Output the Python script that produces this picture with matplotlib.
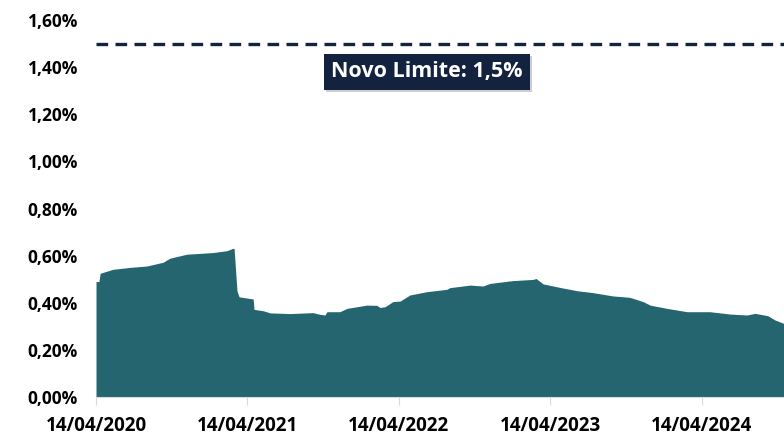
import matplotlib
matplotlib.use('Agg')
import matplotlib.pyplot as plt
import matplotlib.dates as mdates
import matplotlib.patheffects as pe
from matplotlib.ticker import FuncFormatter
import pandas as pd

# Percentual (%)
dates = [
    '2020-04-14', '2020-04-21', '2020-04-24', '2020-05-25', '2020-07-05',
    '2020-08-15', '2020-09-23', '2020-10-09', '2020-11-19', '2021-01-21',
    '2021-02-24', '2021-03-10', '2021-03-13', '2021-03-20', '2021-03-25',
    '2021-04-28', '2021-04-30', '2021-05-22', '2021-06-08', '2021-07-26',
    '2021-09-05', '2021-09-19', '2021-10-06', '2021-10-18', '2021-10-23',
    '2021-11-23', '2021-12-10', '2022-01-03', '2022-01-27', '2022-02-20',
    '2022-02-28', '2022-03-12', '2022-03-31', '2022-04-17', '2022-05-11',
    '2022-06-21', '2022-08-08', '2022-08-15', '2022-10-03', '2022-11-03',
    '2022-11-20', '2023-01-14', '2023-03-04', '2023-03-11', '2023-03-28',
    '2023-05-08', '2023-06-18', '2023-07-26', '2023-09-12', '2023-10-23',
    '2023-11-24', '2023-12-11', '2024-01-21', '2024-03-09', '2024-05-03',
    '2024-06-21', '2024-08-01', '2024-08-20', '2024-09-20', '2024-10-07',
    '2024-10-29',
]
values = [
    0.49, 0.49, 0.525, 0.542, 0.550,
    0.556, 0.572, 0.589, 0.606, 0.613,
    0.621, 0.631, 0.630, 0.45, 0.425,
    0.416, 0.372, 0.366, 0.357, 0.354,
    0.357, 0.358, 0.351, 0.348, 0.362,
    0.362, 0.376, 0.383, 0.390, 0.389,
    0.380, 0.383, 0.405, 0.407, 0.433,
    0.447, 0.457, 0.464, 0.475, 0.471,
    0.482, 0.494, 0.499, 0.503, 0.480,
    0.465, 0.451, 0.443, 0.429, 0.423,
    0.405, 0.390, 0.376, 0.362, 0.362,
    0.352, 0.348, 0.355, 0.345, 0.327,
    0.312,
]
limit = 1.5
limit_label = 'Novo Limite: 1,5%'
tick_dates = ['2020-04-14', '2021-04-14', '2022-04-14', '2023-04-14', '2024-04-14']
y_ticks = [0.0, 0.2, 0.4, 0.6, 0.8, 1.0, 1.2, 1.4, 1.6]

plt.rcParams['font.family'] = ['Open Sans', 'DejaVu Sans']

x = pd.to_datetime(dates)
ticks = pd.to_datetime(tick_dates)

fig = plt.figure(figsize=(7.84, 4.36), dpi=100)
ax = fig.add_axes([96 / 784, 39 / 436, 1 - 96 / 784, 377 / 436])

ax.fill_between(x, 0, values, color='#256570', linewidth=0)
ax.axhline(limit, color='#14243f', linewidth=2.4, linestyle=(0, (3.5, 2.2)))

# label box with a soft shadow
t = ax.text(pd.Timestamp('2022-06-21'), 1.38, limit_label, ha='center', va='center',
            fontsize=15.5, fontweight='bold', color='white',
            bbox=dict(boxstyle='square,pad=0.35', facecolor='#13223f', edgecolor='none'))
t.get_bbox_patch().set_path_effects([pe.SimplePatchShadow(offset=(1.5, -1.5), alpha=0.2),
                                     pe.Normal()])

ax.set_xlim(pd.Timestamp('2020-04-14'), pd.Timestamp('2024-10-29'))
ax.set_ylim(0, 1.6)
ax.set_xticks(ticks)
ax.xaxis.set_major_formatter(mdates.DateFormatter('%d/%m/%Y'))
ax.set_yticks(y_ticks)
ax.yaxis.set_major_formatter(FuncFormatter(lambda v, p: f'{v:.2f}%'.replace('.', ',')))

for lbl in ax.get_yticklabels():
    lbl.set_fontweight('bold')
    lbl.set_fontsize(12.5)
for lbl in ax.get_xticklabels():
    lbl.set_fontweight('bold')
    lbl.set_fontsize(13.5)

ax.tick_params(axis='y', length=0, pad=13)
ax.tick_params(axis='x', length=6, color='#d9d9d9', pad=8)
for s in ['top', 'right', 'left']:
    ax.spines[s].set_visible(False)
ax.spines['bottom'].set_color('#d9d9d9')
ax.set_facecolor('white')
fig.patch.set_facecolor('white')

fig.savefig('out.png', dpi=100)
